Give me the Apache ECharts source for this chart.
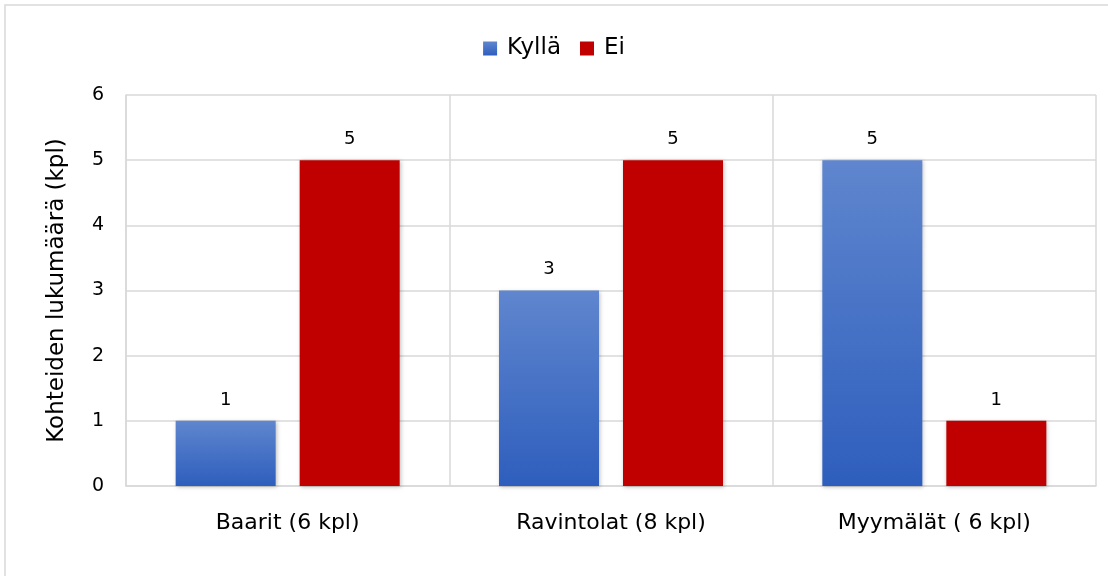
<!DOCTYPE html>
<html><head><meta charset="utf-8">
<script src="https://cdn.jsdelivr.net/npm/echarts@6/dist/echarts.min.js"></script>
<style>html,body{margin:0;padding:0;background:#fff}#c{width:1108px;height:576px}</style>
</head><body><div id="c"></div>
<script>
const categories = ['Baarit (6 kpl)', 'Ravintolat (8 kpl)', 'Myymälät ( 6 kpl)'];
const seriesNames = ['Kyllä', 'Ei'];
const kylla = [1, 3, 5];
const ei = [5, 5, 1];
const yTicks = [0, 1, 2, 3, 4, 5, 6];
const yTitle = 'Kohteiden lukumäärä (kpl)';

const font = "'DejaVu Sans', sans-serif";
const chart = echarts.init(document.getElementById('c'), null, {renderer: 'canvas'});
const blueGrad = new echarts.graphic.LinearGradient(0, 0, 0, 1, [
  {offset: 0, color: '#5F86CE'}, {offset: 1, color: '#2E5EBD'}]);
chart.setOption({
  animation: false,
  backgroundColor: '#fff',
  graphic: [{type: 'rect', shape: {x: 5, y: 5, width: 1120, height: 600},
    style: {fill: 'none', stroke: '#d9d9d9', lineWidth: 1.5}, z: -1}],
  legend: {
    top: 32, left: 'center', itemWidth: 14, itemHeight: 14, itemGap: 19, itemStyle: {borderWidth: 0},
    icon: 'rect',
    textStyle: {fontFamily: font, fontSize: 23, color: '#000', padding: [0, 0, 0, 5]},
    data: seriesNames
  },
  grid: {left: 126, right: 12, top: 95, bottom: 90, containLabel: false},
  xAxis: {
    type: 'category', data: categories,
    axisLine: {show: true, lineStyle: {color: '#d9d9d9', width: 1.5}},
    axisTick: {show: false},
    splitLine: {show: true, lineStyle: {color: '#d9d9d9', width: 1.5}},
    axisLabel: {fontFamily: font, fontSize: 22, color: '#000', margin: 26}
  },
  yAxis: {
    type: 'value', min: yTicks[0], max: yTicks[yTicks.length - 1], interval: 1,
    name: yTitle, nameLocation: 'middle', nameGap: 57,
    nameTextStyle: {fontFamily: font, fontSize: 23, color: '#000'},
    axisLine: {show: true, lineStyle: {color: '#d9d9d9', width: 1.5}},
    axisTick: {show: false},
    splitLine: {show: true, lineStyle: {color: '#d9d9d9', width: 1.5}},
    axisLabel: {fontFamily: font, fontSize: 19, color: '#000', margin: 22}
  },
  series: [
    {name: seriesNames[0], type: 'bar', data: kylla, barWidth: 100, barGap: '24%',
     itemStyle: {color: blueGrad, shadowColor: 'rgba(0,0,0,0.25)', shadowBlur: 4, shadowOffsetX: 1, shadowOffsetY: 1},
     label: {show: true, position: 'top', distance: 12, fontFamily: font, fontSize: 18, color: '#000'}},
    {name: seriesNames[1], type: 'bar', data: ei, barWidth: 100,
     itemStyle: {color: '#C00000', shadowColor: 'rgba(0,0,0,0.25)', shadowBlur: 4, shadowOffsetX: 1, shadowOffsetY: 1},
     label: {show: true, position: 'top', distance: 12, fontFamily: font, fontSize: 18, color: '#000'}}
  ]
});
</script></body></html>
